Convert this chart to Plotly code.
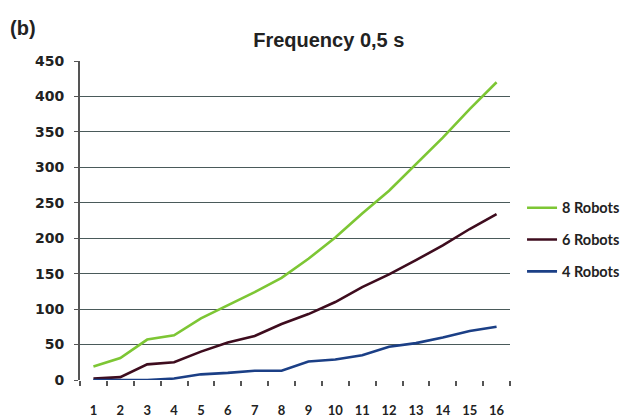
import plotly.graph_objects as go

categories = [str(i) for i in range(1, 17)]
robots8 = [19, 31, 57, 63, 87, 105, 124, 144, 171, 201, 235, 267, 305, 342, 382, 420]
robots6 = [2, 4, 22, 25, 40, 53, 62, 79, 93, 110, 131, 149, 169, 190, 213, 234]
robots4 = [0, 0, 0, 2, 8, 10, 13, 13, 26, 29, 35, 47, 52, 60, 69, 75]
series_names = ["8 Robots", "6 Robots", "4 Robots"]
y_ticks = list(range(0, 451, 50))

colors = ["#7DC634", "#3E0C1E", "#1B3F86"]

fig = go.Figure()
for i, (name, vals) in enumerate(zip(series_names, [robots8, robots6, robots4])):
    fig.add_trace(go.Scatter(
        x=categories, y=vals, name=name, mode="lines",
        line=dict(color=colors[i], width=2.6),
        legendgroup=name,
    ))

fig.update_layout(
    width=629, height=417,
    margin=dict(l=72, r=121, t=53, b=45),
    paper_bgcolor="white", plot_bgcolor="white",
    font=dict(family="Lato", size=13, color="#222222"),
    title=dict(text="<b>Frequency 0,5 s</b>", x=0.510, xanchor="center",
               y=0.923, yanchor="middle",
               font=dict(family="Liberation Sans", size=20, color="#222222")),
    showlegend=True,
    legend=dict(x=1.028, xanchor="left", y=0.59, yanchor="top",
                font=dict(family="Lato", size=14.5, color="#222222", weight="bold"),
                tracegroupgap=10, bgcolor="rgba(0,0,0,0)",
                itemwidth=30),
    xaxis=dict(type="category", range=[-0.5, 15.5], tickson="boundaries",
               ticks="outside", ticklen=5, tickwidth=1.5, tickcolor="#555555",
               showgrid=False, showline=False, zeroline=False,
               automargin=False,
               tickfont=dict(family="Lato", size=13, color="#222222", weight="bold"),
               ticklabelstandoff=21),
    yaxis=dict(range=[0, 450], tickvals=y_ticks, ticks="outside", ticklen=4,
               tickwidth=1.3, tickcolor="#555555",
               showgrid=True, gridcolor="#4A5A5A", gridwidth=1.3,
               showline=True, linecolor="#555555", linewidth=1.8,
               zeroline=False, automargin=False,
               tickfont=dict(family="DejaVu Sans", size=14, color="#222222", weight="bold"),
               ticklabelstandoff=7),
)

fig.add_annotation(text="<b>(b)</b>", xref="paper", yref="paper",
                   x=-0.168, y=1.103, xanchor="left", yanchor="middle",
                   showarrow=False,
                   font=dict(family="Liberation Sans", size=20, color="#222222"))

fig.write_html("out.html")
